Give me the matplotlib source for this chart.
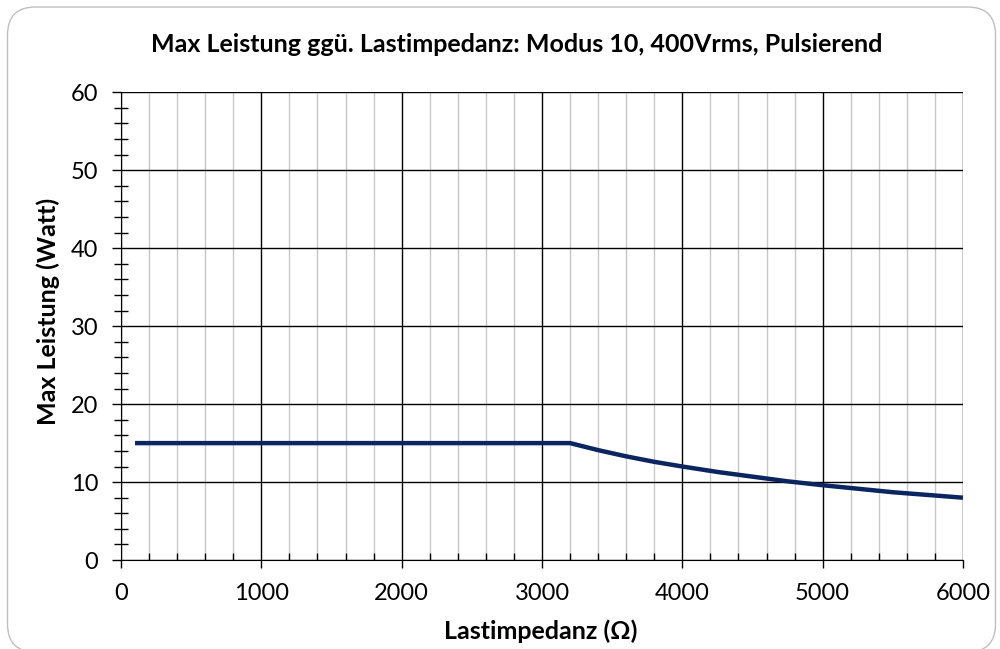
import matplotlib
matplotlib.use('Agg')
import matplotlib.pyplot as plt
from matplotlib.patches import FancyBboxPatch
from matplotlib.ticker import MultipleLocator

impedance = [100, 1000, 2000, 3000, 3200, 3400, 3600, 3800, 4000, 4250, 4500, 4750,
             5000, 5250, 5500, 5750, 6000]
power = [15, 15, 15, 15, 15, 14.1, 13.3, 12.6, 12.0, 11.3, 10.7, 10.1,
         9.6, 9.15, 8.7, 8.35, 8.0]

title = 'Max Leistung ggü. Lastimpedanz: Modus 10, 400Vrms, Pulsierend'
xlabel = 'Lastimpedanz (Ω)'
ylabel = 'Max Leistung (Watt)'

plt.rcParams['font.family'] = ['Lato', 'DejaVu Sans']

fig = plt.figure(figsize=(10, 6.49), dpi=100)
# rounded chart frame, in inches so the corners stay round
border = FancyBboxPatch((0.075, -0.03), 9.88, 6.45, boxstyle='round,pad=0,rounding_size=0.28',
                        transform=fig.dpi_scale_trans, fill=False, edgecolor='#bfbfbf', linewidth=1)
fig.patches.append(border)

ax = fig.add_axes([0.121, 0.137, 0.842, 0.721])
ax.plot(impedance, power, color='#0b2561', linewidth=3.2, solid_capstyle='butt', zorder=3)

ax.set_xlim(0, 6000)
ax.set_ylim(0, 60)
ax.xaxis.set_major_locator(MultipleLocator(1000))
ax.xaxis.set_minor_locator(MultipleLocator(200))
ax.yaxis.set_major_locator(MultipleLocator(10))
ax.yaxis.set_minor_locator(MultipleLocator(2))

ax.grid(which='major', color='black', linewidth=1)
ax.grid(which='minor', axis='x', color='#c8c8c8', linewidth=1)
ax.set_axisbelow(True)

for s in ax.spines.values():
    s.set_visible(False)
ax.spines['left'].set_visible(True)
ax.spines['bottom'].set_visible(True)

ax.tick_params(which='major', direction='out', width=1, labelsize=17)
ax.tick_params(axis='y', which='major', length=6.5, pad=10)
ax.tick_params(axis='y', which='minor', direction='inout', length=9.4, width=1)
ax.tick_params(axis='x', which='major', length=5.8, pad=11)
ax.tick_params(axis='x', which='minor', direction='in', length=5, width=1)

fig.text(0.517, 1 - 45 / 649, title, fontsize=18, fontweight='bold', ha='center', va='center')
fig.text(0.541, 1 - 631 / 649, xlabel, fontsize=18, fontweight='bold', ha='center', va='center')
fig.text(0.048, 1 - 311 / 649, ylabel, fontsize=18, fontweight='bold', ha='center', va='center',
         rotation=90)

fig.savefig('out.png', dpi=100)
